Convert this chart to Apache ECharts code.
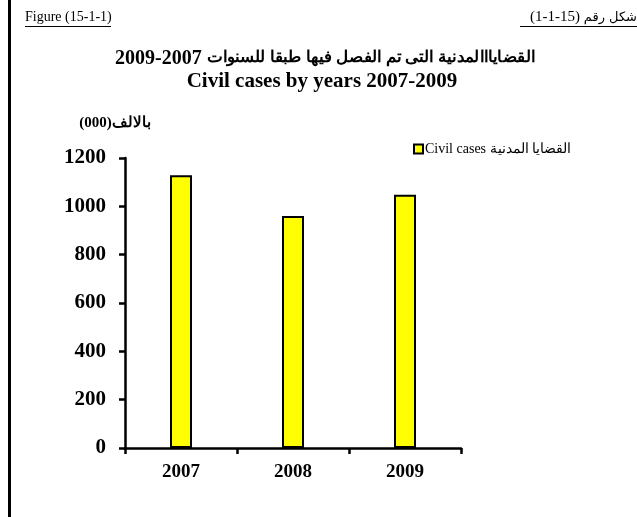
<!DOCTYPE html>
<html>
<head>
<meta charset="utf-8">
<script src="https://cdn.jsdelivr.net/npm/echarts@6/dist/echarts.min.js"></script>
<style>
html,body{margin:0;padding:0;background:#fff;}
#c{width:637px;height:517px;}
</style>
</head>
<body>
<div id="c"></div>
<script>
var categories = ['2007', '2008', '2009'];
var civilCases = [1129, 960, 1048];
var yTicks = [0, 200, 400, 600, 800, 1000, 1200];
var seriesName = 'Civil cases القضايا المدنية';
var titleArNum = '2009-2007';
var titleArText = 'القضايااالمدنية التى تم الفصل فيها طبقا للسنوات';
var titleEn = 'Civil cases by years 2007-2009';
var figEn = 'Figure (15-1-1)';
var figArWord = 'شكل رقم';
var figArNum = '(1-1-15)';
var unitLabel = 'بالالف(000)';

var serif = '"Liberation Serif", "Times New Roman", serif';
var chart = echarts.init(document.getElementById('c'), null, {renderer: 'canvas'});
chart.setOption({
  backgroundColor: '#fff',
  animation: false,
  grid: {left: 125, right: 176, top: 158, bottom: 69, containLabel: false},
  legend: {
    show: true,
    left: 408, top: 137,
    itemWidth: 9, itemHeight: 9, itemGap: 4,
    itemStyle: {borderColor: '#000', borderWidth: 2},
    textStyle: {fontFamily: serif, fontSize: 14, color: '#000', padding: [0,0,0,-3]},
    data: [{name: seriesName, icon: 'rect'}]
  },
  xAxis: {
    type: 'category',
    data: categories,
    axisLine: {lineStyle: {color: '#000', width: 2.5}},
    axisTick: {show: true, length: 6, lineStyle: {color: '#000', width: 2.5}, alignWithLabel: false},
    axisLabel: {fontFamily: serif, fontSize: 19, fontWeight: 'bold', color: '#000', margin: 15}
  },
  yAxis: {
    type: 'value',
    min: yTicks[0], max: yTicks[yTicks.length - 1], interval: 200,
    axisLine: {show: true, lineStyle: {color: '#000', width: 2.5}},
    axisTick: {show: true, length: 6, lineStyle: {color: '#000', width: 2.5}},
    splitLine: {show: false},
    axisLabel: {fontFamily: serif, fontSize: 21, fontWeight: 'bold', color: '#000', margin: 19,
      formatter: function (v) { return String(v); }}
  },
  series: [{
    name: seriesName,
    type: 'bar',
    data: civilCases,
    barWidth: 22,
    itemStyle: {color: '#FFFF00', borderColor: '#000', borderWidth: 2}
  }],
  graphic: [
    {type: 'rect', shape: {x: 8, y: 0, width: 3, height: 517}, style: {fill: '#000'}},
    {type: 'text', left: 25, top: 10, style: {text: figEn, font: '14px ' + serif, fill: '#000'}},
    {type: 'rect', shape: {x: 25, y: 26, width: 86, height: 1}, style: {fill: '#000'}},
    {type: 'text', right: 0, top: 11, style: {text: figArWord, font: '13px "DejaVu Sans", sans-serif', fill: '#000'}},
    {type: 'text', right: 57, top: 10, style: {text: figArNum, font: '15px ' + serif, fill: '#000'}},
    {type: 'rect', shape: {x: 520, y: 26, width: 117, height: 1}, style: {fill: '#000'}},
    {type: 'text', x: 115, y: 59, style: {text: titleArNum, font: 'bold 20px ' + serif, fill: '#000', textAlign: 'left', textVerticalAlign: 'middle'}},
    {type: 'text', x: 535, y: 58, scaleX: 1.045, style: {x: 0, y: 0, text: titleArText, font: 'bold 16px ' + serif, fill: '#000', textAlign: 'right', textVerticalAlign: 'middle'}},
    {type: 'text', x: 322, y: 82, style: {text: titleEn, font: 'bold 21px ' + serif, fill: '#000', textAlign: 'center', textVerticalAlign: 'middle'}},
    {type: 'text', x: 115, y: 123, style: {text: unitLabel, font: 'bold 15px ' + serif, fill: '#000', textAlign: 'center', textVerticalAlign: 'middle'}}
  ]
});
</script>
</body>
</html>
